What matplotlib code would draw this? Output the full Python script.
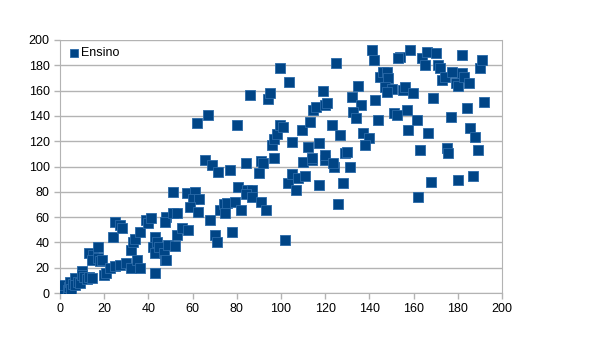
import matplotlib
matplotlib.use("Agg")
import matplotlib.pyplot as plt

# series "Ensino"
x = [0, 1, 2, 3.6, 4, 4.5, 5, 6, 7, 7, 8, 9, 10, 10, 11, 12, 13, 14.5, 13, 15,
     14.5, 17, 17, 18, 19, 20, 21, 22.6, 25, 27, 30, 32, 35, 36, 43,
     24, 25, 27, 28, 32, 33, 34, 36, 39, 40, 41, 42, 43, 43, 44, 45, 47, 47.5,
     48, 47.5, 49, 48,
     51, 51, 53, 52, 53, 55, 58, 57.5, 61, 60, 63, 59, 62.5, 68, 70, 71, 72.5,
     74, 75.5, 79, 74.6, 78, 82,
     80.5, 84.6, 87, 84, 87, 91, 93,
     62, 67, 80, 86, 94, 95, 99.5, 96, 97, 98, 99.5, 97, 65.6, 69, 71.5, 77,
     84, 91, 92, 90,
     102, 103, 105, 107, 107.7, 111, 110, 114, 120, 117, 124, 128, 131, 126,
     103.6, 101, 105, 109.5, 113, 112, 114, 117, 120, 114.5, 116, 120, 121, 119,
     123, 126.7, 129, 130, 123.5, 125,
     132, 136, 132.5, 134, 135, 137, 140, 138, 141, 142, 142.5, 144,
     145, 146, 148, 148.5, 147, 150, 148,
     151, 152.5, 154, 153, 155, 156, 158.4, 159.7, 157, 161.5, 157.5, 162, 163,
     164, 165, 166, 166.5, 168, 169,
     170, 171, 172, 173, 174, 175, 175.6, 177, 177.4, 179, 180, 180, 182, 182,
     183, 184, 185, 185.5, 187, 188, 189, 190, 191, 192]
y = [4, 3, 6, 2, 5, 9, 3, 7, 12, 6, 9, 8, 17, 14, 13, 11, 13, 12, 32, 30,
     26, 36, 28, 25, 26, 14, 16, 20, 21, 22, 24, 20, 26, 20, 16,
     44, 56, 54, 51, 34, 40, 43, 48, 58, 55, 59, 36, 44, 32, 40, 36, 32, 26,
     60, 56, 38, 26,
     80, 63, 63, 37, 46, 51, 50, 79, 80, 74, 74, 68, 64, 58, 46, 40, 66,
     70, 71, 72, 63, 48, 66,
     84, 81.5, 81.5, 78, 76, 72, 66,
     134.5, 141, 133, 156.5, 153, 158, 178, 117, 122, 126, 133, 107, 105, 101,
     96, 97, 103, 104, 103, 95,
     42, 87, 94, 81.5, 91, 92.5, 103.6, 105, 105, 85.5, 100, 87, 99.6, 70,
     167, 131, 119, 129, 135, 115.6, 107, 118.6, 109, 145, 147, 149, 150, 160,
     133, 125, 111, 111.5, 103, 182,
     155, 149, 143, 138, 164, 126.5, 122.6, 117, 192, 184, 152.6, 137,
     171, 175, 175, 170, 163, 161, 159,
     142, 141, 186.6, 186, 160.6, 163, 192, 158, 145, 137, 129, 76, 113,
     186, 180, 190.5, 126.5, 88, 154,
     190, 180, 178, 168, 171, 114.6, 111, 139, 175, 166, 164, 89, 188, 174,
     171, 146, 166, 130.5, 92.5, 123.5, 113, 178, 184, 151]

plt.rcParams['font.family'] = ['Liberation Sans', 'DejaVu Sans']

fig = plt.figure(figsize=(6.05, 3.39), dpi=100)
ax = fig.add_axes([60 / 605, 46 / 339, 442 / 605, 253 / 339])

ax.scatter(x, y, marker='s', s=62, color='#004586', edgecolors='#2a6aa8',
           linewidths=0.6, label='Ensino', zorder=3)

ax.set_xlim(0, 200)
ax.set_ylim(0, 200)
ax.set_xticks(range(0, 201, 20))
ax.set_yticks(range(0, 201, 20))
ax.yaxis.grid(True, color='#b3b3b3', linewidth=1)
ax.set_axisbelow(True)
for s in ax.spines.values():
    s.set_color('#b3b3b3')
ax.spines['top'].set_visible(False)
ax.tick_params(colors='#b3b3b3', labelcolor='black', labelsize=9, length=4,
               width=1)

ax.legend(loc='upper left', frameon=False, fontsize=9, handletextpad=0.1,
          borderaxespad=0.2, markerscale=0.8, handlelength=1)

fig.savefig('out.png', dpi=100)
